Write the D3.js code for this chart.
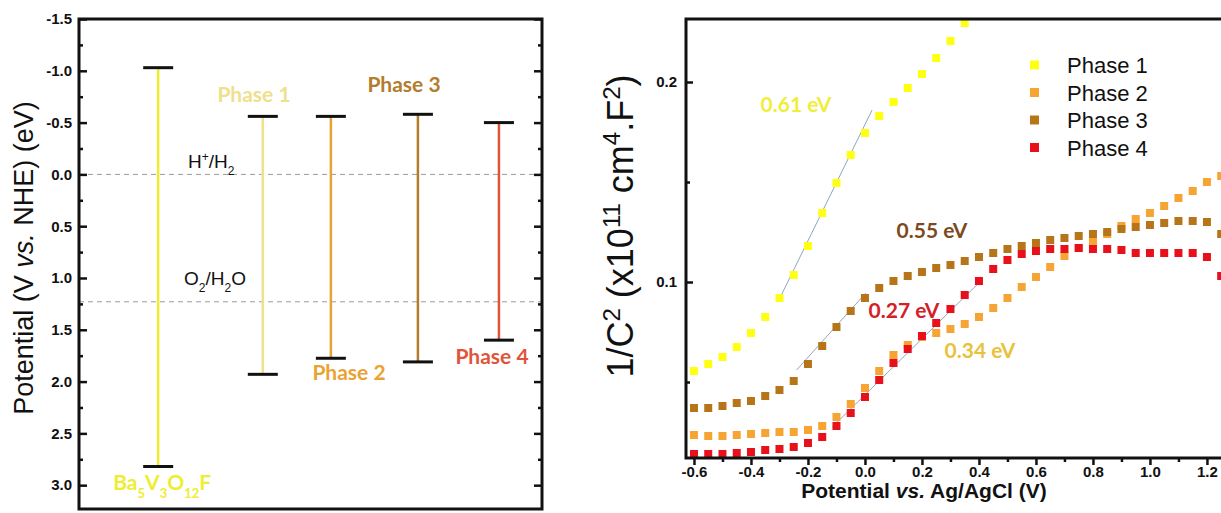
<!DOCTYPE html>
<html>
<head>
<meta charset="utf-8">
<script src="https://cdn.jsdelivr.net/npm/d3@7"></script>
<style>
  body { margin: 0; background: #fff; }
  svg { display: block; font-family: "Liberation Sans", Arial, sans-serif; }
</style>
</head>
<body>
<script>
// ---------------- data: band-edge diagram (left) ----------------
var levelNames = ["Ba5V3O12F", "Phase 1", "Phase 2", "Phase 3", "Phase 4"];
var levelX = [1.71, 3.97, 5.44, 7.32, 9.07];          // hidden x axis of the original plot
var cbEdge = [-1.03, -0.56, -0.56, -0.58, -0.50];     // top of each bar (V vs NHE)
var vbEdge = [2.82, 1.93, 1.775, 1.81, 1.60];         // bottom of each bar
var levelColors = ["#eeee30", "#efe08c", "#e9a332", "#b27d2c", "#e0553a"];
var refValues = [0, 1.23];                            // H+/H2 and O2/H2O
var leftTicks = [-1.5, -1.0, -0.5, 0.0, 0.5, 1.0, 1.5, 2.0, 2.5, 3.0];
var leftMinor = [-1.25, -0.75, -0.25, 0.25, 0.75, 1.25, 1.75, 2.25, 2.75];

// ---------------- data: Mott-Schottky (right) ----------------
var potential = [-0.6, -0.55, -0.5, -0.45, -0.4, -0.35, -0.3, -0.25, -0.2, -0.15, -0.1, -0.05, 0.0,
                 0.05, 0.1, 0.15, 0.2, 0.25, 0.3, 0.35, 0.4, 0.45, 0.5, 0.55, 0.6,
                 0.65, 0.7, 0.75, 0.8, 0.85, 0.9, 0.95, 1.0, 1.05, 1.1, 1.15, 1.2, 1.25];
var phase1 = [0.0555, 0.059, 0.0625, 0.0675, 0.0745, 0.0825, 0.092, 0.1035, 0.118, 0.1345, 0.1495, 0.1635, 0.1745,
              0.183, 0.19, 0.197, 0.204, 0.212, 0.2205, 0.2295];
var phase2 = [0.0235, 0.023, 0.023, 0.0235, 0.024, 0.0245, 0.025, 0.025, 0.026, 0.028, 0.0325, 0.039, 0.047,
              0.0555, 0.0635, 0.0685, 0.0725, 0.0745, 0.0765, 0.079, 0.0825, 0.087, 0.092, 0.0975, 0.1025,
              0.1075, 0.113, 0.117, 0.1205, 0.124, 0.128, 0.1315, 0.1345, 0.138, 0.142, 0.1455, 0.15, 0.153];
var phase3 = [0.037, 0.037, 0.038, 0.0395, 0.0405, 0.043, 0.046, 0.0505, 0.059, 0.068, 0.0775, 0.0855, 0.092,
              0.097, 0.1005, 0.103, 0.105, 0.107, 0.1085, 0.1105, 0.1125, 0.1145, 0.1165, 0.118, 0.1195,
              0.121, 0.122, 0.123, 0.124, 0.125, 0.1265, 0.1275, 0.1285, 0.1295, 0.1305, 0.1305, 0.13, 0.124];
var phase4 = [0.014, 0.014, 0.014, 0.0145, 0.015, 0.016, 0.0165, 0.0175, 0.0195, 0.0225, 0.028, 0.0345, 0.0425,
              0.051, 0.0595, 0.0665, 0.073, 0.0795, 0.0865, 0.0935, 0.1005, 0.1065, 0.111, 0.114, 0.1155,
              0.1165, 0.1165, 0.117, 0.1165, 0.1165, 0.116, 0.1145, 0.1145, 0.1145, 0.1145, 0.1145, 0.1125, 0.103];
var seriesNames = ["Phase 1", "Phase 2", "Phase 3", "Phase 4"];
var seriesColors = ["#ffff14", "#f6a434", "#b7751a", "#e8101a"];
// linear fits (end points)
var fitX = [[-0.302, 0.025], [-0.24, 0.003], [-0.115, 0.41]];
var fitY = [[0.091, 0.186], [0.056, 0.0945], [0.0275, 0.101]];
var gapLabels = ["0.61 eV", "0.55 eV", "0.27 eV", "0.34 eV"];
var gapColors = ["#f0ee3a", "#7c4a1c", "#d42026", "#e8c23c"];
var rightXTicks = [-0.6, -0.4, -0.2, 0.0, 0.2, 0.4, 0.6, 0.8, 1.0, 1.2];
var rightXMinor = [-0.5, -0.3, -0.1, 0.1, 0.3, 0.5, 0.7, 0.9, 1.1];
var rightYTicks = [0.1, 0.2];
var rightYMinor = [0.05, 0.15];

var svg = d3.select("body").append("svg")
    .attr("width", 1221)
    .attr("height", 513);

// =================== left panel ===================
var lx = d3.scaleLinear().domain([0, 10]).range([79, 542]);
var ly = d3.scaleLinear().domain([-1.5, 3.23]).range([19, 509]);

var left = svg.append("g");

// reference dashed lines
left.selectAll(".ref")
    .data(refValues)
    .enter()
    .append("line")
    .attr("x1", lx(0)).attr("x2", lx(10))
    .attr("y1", function(d){ return ly(d); })
    .attr("y2", function(d){ return ly(d); })
    .attr("stroke", "#9a9a9a")
    .attr("stroke-width", 1)
    .attr("stroke-dasharray", "5,4");

// vertical bars
levelNames.forEach(function(name, i){
    left.append("line")
        .attr("x1", lx(levelX[i])).attr("x2", lx(levelX[i]))
        .attr("y1", ly(cbEdge[i])).attr("y2", ly(vbEdge[i]))
        .attr("stroke", levelColors[i])
        .attr("stroke-width", 2.5);
    [cbEdge[i], vbEdge[i]].forEach(function(v){
        left.append("line")
            .attr("x1", lx(levelX[i]) - 15).attr("x2", lx(levelX[i]) + 15)
            .attr("y1", ly(v)).attr("y2", ly(v))
            .attr("stroke", "#111")
            .attr("stroke-width", 3);
    });
});

// axes (ticks point inward)
function styleAxis(g){
    g.select(".domain").remove();
    g.selectAll(".tick line").attr("stroke", "#111").attr("stroke-width", 2.5);
    g.selectAll(".tick text")
        .attr("fill", "#111")
        .style("font-family", "'Liberation Sans', Arial, sans-serif")
        .style("font-weight", "bold")
        .style("font-size", "15px");
}
left.append("g").attr("transform", "translate(" + lx(0) + ",0)")
    .call(d3.axisLeft(ly).tickValues(leftTicks).tickSize(-8).tickPadding(7)
        .tickFormat(function(d){ return d.toFixed(1); }))
    .call(styleAxis);
left.append("g").attr("transform", "translate(" + lx(0) + ",0)")
    .call(d3.axisLeft(ly).tickValues(leftMinor).tickSize(-4).tickFormat(""))
    .call(styleAxis);
left.append("g").attr("transform", "translate(" + lx(10) + ",0)")
    .call(d3.axisRight(ly).tickValues(leftTicks).tickSize(-8).tickFormat(""))
    .call(styleAxis);
left.append("g").attr("transform", "translate(" + lx(10) + ",0)")
    .call(d3.axisRight(ly).tickValues(leftMinor).tickSize(-4).tickFormat(""))
    .call(styleAxis);

// frame
left.append("rect")
    .attr("x", lx(0)).attr("y", ly(-1.5))
    .attr("width", lx(10) - lx(0)).attr("height", ly(3.23) - ly(-1.5))
    .attr("fill", "none").attr("stroke", "#111").attr("stroke-width", 3);

// phase labels
var calib = "Lato, 'Open Sans', sans-serif";
var ba = left.append("text")
    .attr("x", lx(levelX[0]) + 4).attr("y", 490)
    .attr("text-anchor", "middle")
    .attr("fill", levelColors[0])
    .style("font-family", calib).style("font-weight", "bold").style("font-size", "21px");
[["Ba", false], ["5", true], ["V", false], ["3", true], ["O", false], ["12", true], ["F", false]].forEach(function(p){
    var t = ba.append("tspan").text(p[0]);
    if (p[1]) t.attr("baseline-shift", "sub").style("font-size", "13px");
});
var phaseLabelPos = [null, [254, 102], [349, 380], [404, 92], [492, 364]];
for (var i = 1; i < levelNames.length; i++){
    left.append("text")
        .attr("x", phaseLabelPos[i][0]).attr("y", phaseLabelPos[i][1])
        .attr("text-anchor", "middle")
        .attr("fill", levelColors[i])
        .style("font-family", calib).style("font-weight", "bold").style("font-size", "21px")
        .text(levelNames[i]);
}

// reference labels
var h = left.append("text").attr("x", 188).attr("y", 168).attr("fill", "#111").style("font-size", "19px");
h.append("tspan").text("H");
h.append("tspan").attr("baseline-shift", "super").style("font-size", "12px").text("+");
h.append("tspan").text("/H");
h.append("tspan").attr("baseline-shift", "sub").style("font-size", "12px").text("2");
var o = left.append("text").attr("x", 184).attr("y", 285).attr("fill", "#111").style("font-size", "19px");
o.append("tspan").text("O");
o.append("tspan").attr("baseline-shift", "sub").style("font-size", "12px").text("2");
o.append("tspan").text("/H");
o.append("tspan").attr("baseline-shift", "sub").style("font-size", "12px").text("2");
o.append("tspan").text("O");

// y label
var yl = left.append("text")
    .attr("transform", "translate(33,258) rotate(-90)")
    .attr("text-anchor", "middle")
    .attr("fill", "#111")
    .style("font-size", "27px");
yl.append("tspan").text("Potential (V ");
yl.append("tspan").style("font-style", "italic").text("vs.");
yl.append("tspan").text(" NHE) (eV)");

// =================== right panel ===================
var rx = d3.scaleLinear().domain([-0.628, 1.316]).range([686, 1240]);
var ry = d3.scaleLinear().domain([0.012, 0.2315]).range([458, 19]);

var right = svg.append("g");
right.append("clipPath").attr("id", "plotClip")
    .append("rect").attr("x", 686).attr("y", 19).attr("width", 560).attr("height", 439);

var plot = right.append("g").attr("clip-path", "url(#plotClip)");

// fit lines
fitX.forEach(function(fx, i){
    plot.append("line")
        .attr("x1", rx(fx[0])).attr("x2", rx(fx[1]))
        .attr("y1", ry(fitY[i][0])).attr("y2", ry(fitY[i][1]))
        .attr("stroke", "#8ea6c2").attr("stroke-width", 1);
});

// square markers
var allSeries = [phase1, phase2, phase3, phase4];
allSeries.forEach(function(vals, s){
    plot.selectAll(".s" + s)
        .data(vals)
        .enter()
        .append("rect")
        .attr("class", "s" + s)
        .attr("x", function(d, i){ return rx(potential[i]) - 4; })
        .attr("y", function(d){ return ry(d) - 4; })
        .attr("width", 8).attr("height", 8)
        .attr("fill", seriesColors[s]);
});

// axes
right.append("g").attr("transform", "translate(0," + ry(0.012) + ")")
    .call(d3.axisBottom(rx).tickValues(rightXTicks).tickSize(7).tickPadding(1)
        .tickFormat(function(d){ return d.toFixed(1); }))
    .call(styleAxis);
right.append("g").attr("transform", "translate(0," + ry(0.012) + ")")
    .call(d3.axisBottom(rx).tickValues(rightXMinor).tickSize(4).tickFormat(""))
    .call(styleAxis);
right.append("g").attr("transform", "translate(" + rx(-0.628) + ",0)")
    .call(d3.axisLeft(ry).tickValues(rightYTicks).tickSize(-7).tickPadding(9)
        .tickFormat(function(d){ return d.toFixed(1); }))
    .call(styleAxis);
right.append("g").attr("transform", "translate(" + rx(-0.628) + ",0)")
    .call(d3.axisLeft(ry).tickValues(rightYMinor).tickSize(-4).tickFormat(""))
    .call(styleAxis);

// frame
right.append("rect")
    .attr("x", 686).attr("y", 19).attr("width", 560).attr("height", 439)
    .attr("fill", "none").attr("stroke", "#111").attr("stroke-width", 3);

// gap labels
var gapPos = [[796, 112], [932, 238], [904, 318], [980, 358]];
gapLabels.forEach(function(t, i){
    right.append("text")
        .attr("x", gapPos[i][0]).attr("y", gapPos[i][1])
        .attr("text-anchor", "middle")
        .attr("fill", gapColors[i])
        .style("font-family", calib).style("font-weight", "bold").style("font-size", "21px")
        .text(t);
});

// legend
var legend = right.append("g");
seriesNames.forEach(function(n, i){
    var cy = 65 + i * 27.5;
    legend.append("rect")
        .attr("x", 1030).attr("y", cy - 4.5)
        .attr("width", 9).attr("height", 9)
        .attr("fill", seriesColors[i]);
    legend.append("text")
        .attr("x", 1067).attr("y", cy + 8)
        .attr("fill", "#111")
        .style("font-size", "22px")
        .text(n);
});

// x label
var xl = right.append("text")
    .attr("x", 924).attr("y", 498)
    .attr("text-anchor", "middle")
    .attr("fill", "#111")
    .style("font-weight", "bold")
    .style("font-size", "21px");
xl.append("tspan").text("Potential ");
xl.append("tspan").style("font-style", "italic").text("vs.");
xl.append("tspan").text(" Ag/AgCl (V)");

// y label
var yr = right.append("text")
    .attr("transform", "translate(633,226) rotate(-90)")
    .attr("text-anchor", "middle")
    .attr("fill", "#111")
    .style("font-size", "36px");
[["1/C", 0], ["2", 1], [" (x10", 0], ["11", 1], [" cm", 0], ["4", 1], [".F", 0], ["2", 1], [")", 0]].forEach(function(p){
    var t = yr.append("tspan").text(p[0]);
    if (p[1]) t.attr("baseline-shift", "super").style("font-size", "24px");
});
</script>
</body>
</html>
